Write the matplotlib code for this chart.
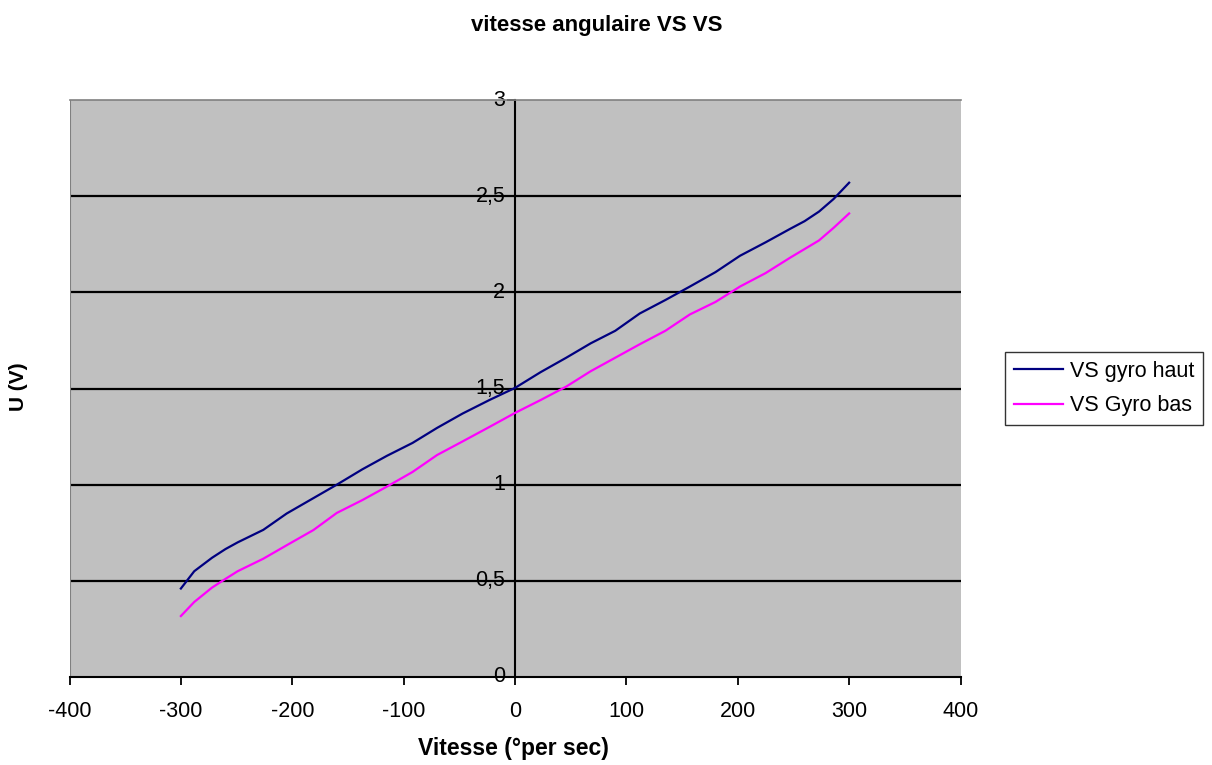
import matplotlib
matplotlib.use("Agg")
import matplotlib.pyplot as plt

plt.rcParams['font.family'] = ['Liberation Sans', 'DejaVu Sans']

vitesse = [-300, -288, -272, -260, -249, -226, -205, -181, -160, -137, -115, -92, -70, -47, -23,
           0, 23, 46, 68, 90, 112, 135, 157, 180, 202, 225, 247, 260, 273, 286, 300]
gyro_haut = [0.46, 0.55, 0.62, 0.665, 0.70, 0.765, 0.85, 0.93, 1.0, 1.08, 1.15, 1.217, 1.295, 1.37, 1.44,
             1.503, 1.585, 1.66, 1.735, 1.80, 1.89, 1.96, 2.03, 2.105, 2.19, 2.26, 2.33, 2.37, 2.42, 2.485, 2.57]
gyro_bas = [0.317, 0.39, 0.465, 0.51, 0.55, 0.615, 0.685, 0.764, 0.853, 0.92, 0.99, 1.066, 1.154, 1.225, 1.30,
            1.373, 1.44, 1.51, 1.59, 1.66, 1.73, 1.80, 1.885, 1.95, 2.03, 2.10, 2.18, 2.225, 2.27, 2.335, 2.41]

xticks = [-400, -300, -200, -100, 0, 100, 200, 300, 400]
yticks = [0, 0.5, 1, 1.5, 2, 2.5, 3]
ylabels = ['0', '0,5', '1', '1,5', '2', '2,5', '3']

W, H = 1212, 765
fig = plt.figure(figsize=(W / 100, H / 100), dpi=100)
ax = fig.add_axes([69.5 / W, 1 - 677 / H, (960.5 - 69.5) / W, (677 - 100) / H])
ax.set_facecolor('#C0C0C0')

for y in yticks[1:-1]:
    ax.axhline(y, color='black', lw=1.6, zorder=1)

ax.plot(vitesse, gyro_haut, color='#000080', lw=1.6, label='VS gyro haut', zorder=3)
ax.plot(vitesse, gyro_bas, color='#FF00FF', lw=1.6, label='VS Gyro bas', zorder=3)

ax.set_xlim(-400, 400)
ax.set_ylim(0, 3)

ax.spines['left'].set_position(('data', 0))
ax.spines['left'].set_color('black')
ax.spines['left'].set_linewidth(1.5)
ax.spines['bottom'].set_color('black')
ax.spines['bottom'].set_linewidth(1.5)
ax.spines['top'].set_color('#808080')
ax.spines['right'].set_visible(False)
ax.spines['top'].set_linewidth(1.2)
# left border of plot area
ax.axvline(-400, color='#808080', lw=1.5, zorder=2)

ax.set_xticks(xticks)
ax.set_xticklabels([str(v) for v in xticks], fontsize=15.5)
ax.set_yticks(yticks)
ax.set_yticklabels(ylabels, fontsize=15.5)
ax.tick_params(axis='x', direction='out', length=6, width=1.3, pad=11)
ax.tick_params(axis='y', direction='out', length=6, width=1.3, pad=1)
for t in ax.get_yticklabels():
    t.set_verticalalignment('center')

fig.text(597 / W, 1 - 26 / H, 'vitesse angulaire VS VS', ha='center', va='center',
         fontsize=16, fontweight='bold')
fig.text(513 / W, 1 - 749 / H, 'Vitesse (°per sec)', ha='center', va='center',
         fontsize=16.5, fontweight='bold')
fig.text(18 / W, 1 - 387 / H, 'U (V)', ha='center', va='center', rotation=90,
         fontsize=15, fontweight='bold')

leg = fig.legend(loc='center left', bbox_to_anchor=(1005 / W, 1 - 388.5 / H), fontsize=15.5,
                 frameon=True, fancybox=False, edgecolor='black', handlelength=2.3,
                 borderpad=0.4, labelspacing=0.65, handletextpad=0.3, borderaxespad=0)
leg.get_frame().set_linewidth(1.0)

fig.savefig('out.png', dpi=100, facecolor='white')
